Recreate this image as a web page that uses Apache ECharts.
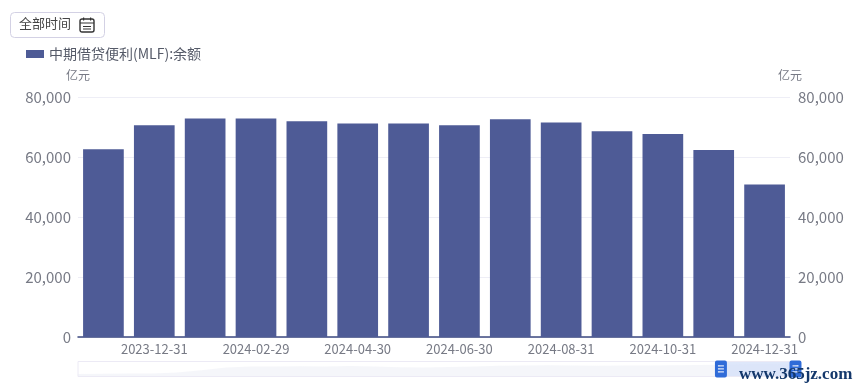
<!DOCTYPE html>
<html><head><meta charset="utf-8">
<script src="https://cdn.jsdelivr.net/npm/echarts@6/dist/echarts.min.js"></script>
<style>html,body{margin:0;padding:0;background:#fff}#c{width:861px;height:392px}</style></head>
<body><div id="c"></div>
<script>
const FONT = '"Noto Sans CJK SC","Noto Sans",sans-serif';
const categories = ['2023-11-30','2023-12-31','2024-01-31','2024-02-29','2024-03-31','2024-04-30','2024-05-31','2024-06-30','2024-07-31','2024-08-31','2024-09-30','2024-10-31','2024-11-30','2024-12-31'];
const balance = [62600,70600,72800,72800,71900,71200,71200,70600,72600,71500,68600,67700,62300,50800];
const seriesName = '中期借贷便利(MLF):余额';
const yTicks = {min:0,max:80000,interval:20000};
const historyLabels = ['2014','2015a','2015b','2016a','2016b','2016c','2017a','2017b','2017c','2018a','2018b','2018c','2019a','2019b','2019c','2020a','2020b','2020c','2021a','2021b','2021c','2022a','2022b','2022c','2023a','2023b','2023c','2024a','2024b','2024c'];
const historyValues = [3000,4000,5000,5500,10000,22000,36000,40000,41000,42000,41000,43000,41000,37000,36000,38000,41000,44000,45000,47000,46000,44000,45000,46000,47000,48000,50000,52000,53000,48000];

const chart = echarts.init(document.getElementById('c'));
const hPath = 'path://M2 0H10A2 2 0 0 1 12 2V15A2 2 0 0 1 10 17H2A2 2 0 0 1 0 15V2A2 2 0 0 1 2 0ZM3 5V6.2H9V5ZM3 8V9.2H9V8ZM3 11V12.2H9V11Z';
chart.setOption({
  animation:false,
  textStyle:{fontFamily:FONT},
  legend:{left:21,top:42,icon:'rect',itemWidth:18,itemHeight:8,data:[seriesName],
    textStyle:{fontSize:14,color:'#555a68',fontFamily:FONT}},
  grid:{left:78,right:71,top:97,bottom:55,containLabel:false},
  xAxis:[
   {type:'category',data:categories,axisTick:{show:false},
    axisLine:{lineStyle:{color:'#3c4a80',width:1.5}},
    axisLabel:{interval:(i)=>i%2===1,color:'#777a85',fontSize:13,margin:6,fontFamily:FONT}},
   {type:'category',data:historyLabels,show:false}
  ],
  yAxis:[
   {type:'value',...yTicks,name:'亿元',nameGap:16,nameTextStyle:{color:'#777a85',fontSize:12,align:'center'},
    axisLine:{show:false},axisTick:{show:false},splitLine:{lineStyle:{color:'#eeeef6'}},
    axisLabel:{color:'#777a85',fontSize:15,margin:7,padding:[0,0,2,0],formatter:v=>v.toLocaleString('en-US')}},
   {type:'value',...yTicks,name:'亿元',nameGap:16,position:'right',nameTextStyle:{color:'#777a85',fontSize:12,align:'center'},
    axisLine:{show:false},axisTick:{show:false},splitLine:{show:false},
    axisLabel:{color:'#777a85',fontSize:15,margin:8,padding:[0,0,2,0],formatter:v=>v.toLocaleString('en-US')}}
  ],
  dataZoom:[{type:'slider',xAxisIndex:1,filterMode:'none',start:89.35,end:100,left:75,right:67,bottom:15,height:16,
    backgroundColor:'#fff',borderColor:'#eceaf5',fillerColor:'rgba(190,208,245,0.5)',
    dataBackground:{lineStyle:{opacity:0},areaStyle:{color:'#eef0f7',opacity:0.6}},
    selectedDataBackground:{lineStyle:{opacity:0},areaStyle:{color:'#eef0f7',opacity:0.3}},
    handleIcon:hPath,handleSize:'106%',handleStyle:{color:'#2f6bd8',borderWidth:0},
    moveHandleSize:0,showDetail:false,brushSelect:false,zoomLock:true,
    emphasis:{handleStyle:{color:'#2f6bd8',borderWidth:0}}}],
  series:[
   {name:seriesName,type:'bar',data:balance,barCategoryGap:'20%',itemStyle:{color:'#4e5b96'},xAxisIndex:0,yAxisIndex:0,silent:true},
   {name:'history',type:'line',data:historyValues,xAxisIndex:1,yAxisIndex:0,showSymbol:false,silent:true,lineStyle:{opacity:0},itemStyle:{opacity:0}}
  ],
  graphic:[
   {type:'rect',left:10,top:12,shape:{width:94,height:25,r:4},style:{fill:'#fff',stroke:'#d3d1e4',lineWidth:1}},
   {type:'text',left:19,top:17,style:{text:'全部时间',fontSize:13,fill:'#444',fontFamily:FONT}},
   {type:'rect',x:80,y:19,shape:{width:14,height:13,r:2},style:{fill:'none',stroke:'#333',lineWidth:1.4}},
   {type:'rect',x:80,y:22.5,shape:{width:14,height:1},style:{fill:'#333'}},
   {type:'rect',x:83,y:26,shape:{width:8,height:1},style:{fill:'#333'}},
   {type:'rect',x:83,y:28.5,shape:{width:8,height:1},style:{fill:'#333'}},
   {type:'rect',x:83,y:17.5,shape:{width:1.2,height:3},style:{fill:'#333'}},
   {type:'rect',x:90,y:17.5,shape:{width:1.2,height:3},style:{fill:'#333'}},
   {type:'text',left:739,top:366,z:100,style:{text:'www.365jz.com',fontSize:17,fontWeight:'bold',fill:'#14386b',fontFamily:'"Liberation Serif",serif'}}
  ]
});
</script></body></html>
